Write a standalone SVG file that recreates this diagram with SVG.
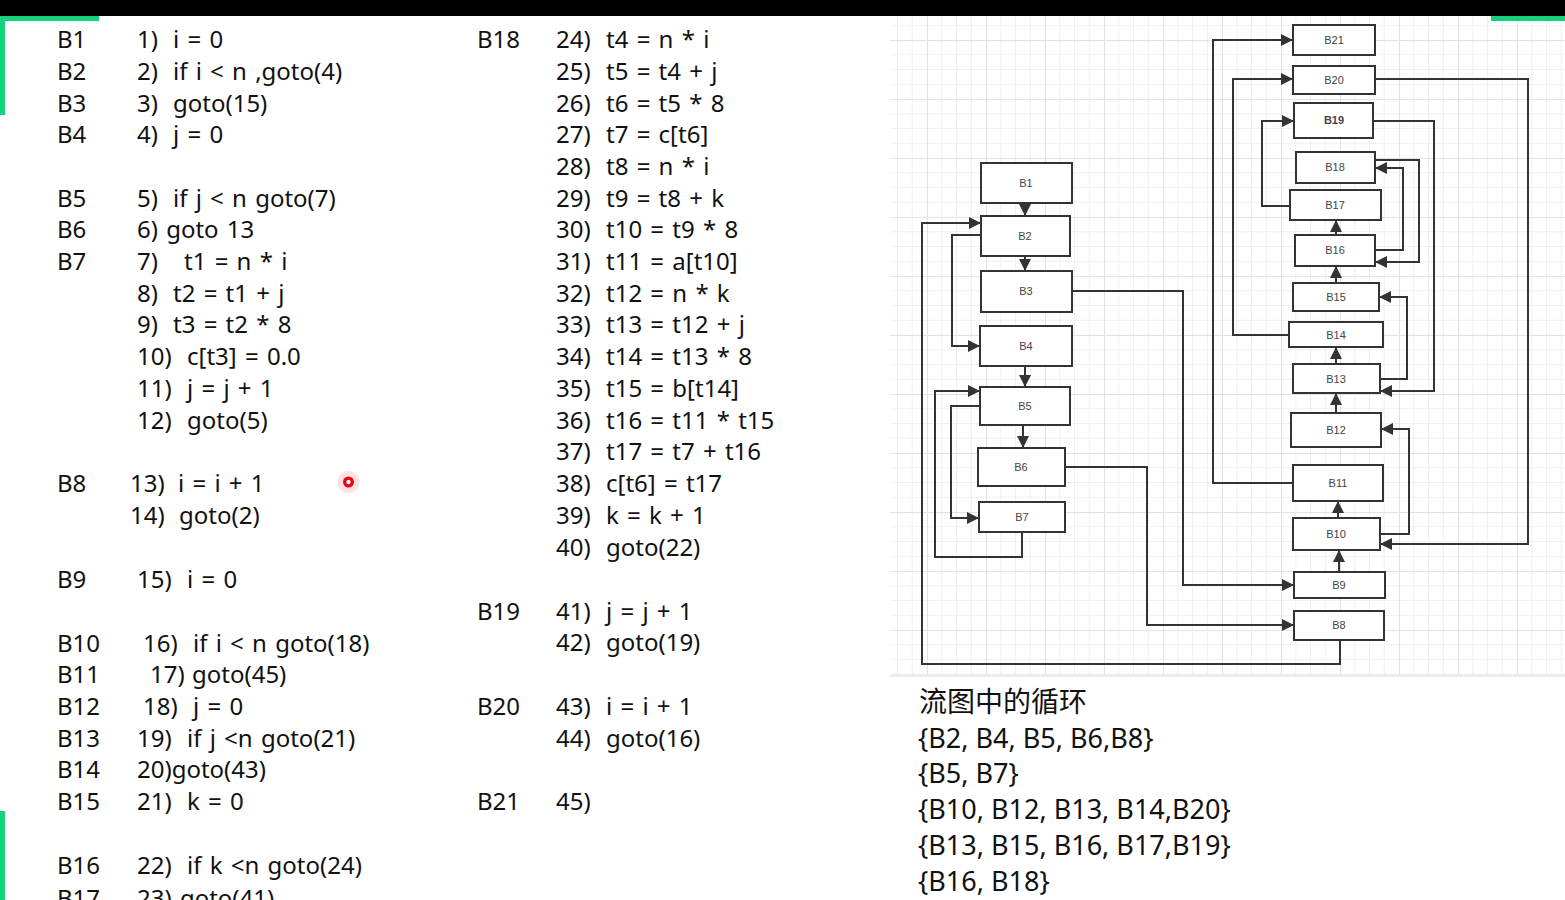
<svg xmlns="http://www.w3.org/2000/svg" width="1565" height="900" viewBox="0 0 1565 900">
<style>
.t{font-family:"Noto Sans","Noto Sans CJK SC",sans-serif;font-size:24px;fill:#111;white-space:pre;word-spacing:2px}
.r{font-family:"Noto Sans","Noto Sans CJK SC",sans-serif;font-size:27px;fill:#111;white-space:pre}
.n rect{fill:#fff;stroke:#333;stroke-width:2}
.n text{font-family:"Liberation Sans",Arial,sans-serif;font-size:11px;fill:#444;text-anchor:middle}
.e path{fill:none;stroke:#333;stroke-width:2}
.g{fill:#14d27c}
</style>
<defs>
<marker id="a" viewBox="0 0 10 10" refX="10" refY="5" markerWidth="6" markerHeight="6" markerUnits="strokeWidth" orient="auto">
<path d="M0,0L10,5L0,10z" fill="#333"/>
</marker>
<pattern id="grid" x="927" y="40" width="59" height="59" patternUnits="userSpaceOnUse">
<path d="M14.75,0V59M29.5,0V59M44.25,0V59M0,14.75H59M0,29.5H59M0,44.25H59" stroke="#f0f0f0" stroke-width="1" fill="none"/>
<path d="M0.5,0V59M0,0.5H59" stroke="#e2e2e2" stroke-width="1" fill="none"/>
</pattern>
</defs>
<rect width="1565" height="900" fill="#fff"/>
<rect x="890" y="15" width="675" height="660" fill="url(#grid)"/>
<rect x="890" y="674" width="675" height="3" fill="#ececec"/>
<rect x="0" y="0" width="1565" height="16" fill="#000"/>
<rect class="g" x="0" y="16" width="99" height="5"/>
<rect class="g" x="0" y="16" width="5" height="99"/>
<rect class="g" x="1491" y="16" width="74" height="5"/>
<rect class="g" x="0" y="811" width="5" height="89"/>

<g id="code-left">
<text class="t" x="57" y="48">B1</text><text class="t" x="137" y="48">1)</text><text class="t" x="173" y="48">i = 0</text>
<text class="t" x="57" y="80">B2</text><text class="t" x="137" y="80">2)</text><text class="t" x="173" y="80">if i &lt; n ,goto(4)</text>
<text class="t" x="57" y="112">B3</text><text class="t" x="137" y="112">3)</text><text class="t" x="173" y="112">goto(15)</text>
<text class="t" x="57" y="143">B4</text><text class="t" x="137" y="143">4)</text><text class="t" x="173" y="143">j = 0</text>
<text class="t" x="57" y="207">B5</text><text class="t" x="137" y="207">5)</text><text class="t" x="173" y="207">if j &lt; n goto(7)</text>
<text class="t" x="57" y="238">B6</text><text class="t" x="137" y="238">6) goto 13</text>
<text class="t" x="57" y="270">B7</text><text class="t" x="137" y="270">7)</text><text class="t" x="184" y="270">t1 = n * i</text>
<text class="t" x="137" y="302">8)</text><text class="t" x="173" y="302">t2 = t1 + j</text>
<text class="t" x="137" y="333">9)</text><text class="t" x="173" y="333">t3 = t2 * 8</text>
<text class="t" x="137" y="365">10)</text><text class="t" x="187" y="365">c[t3] = 0.0</text>
<text class="t" x="137" y="397">11)</text><text class="t" x="187" y="397">j = j + 1</text>
<text class="t" x="137" y="429">12)</text><text class="t" x="187" y="429">goto(5)</text>
<text class="t" x="57" y="492">B8</text><text class="t" x="130" y="492">13)</text><text class="t" x="178" y="492">i = i + 1</text>
<text class="t" x="130" y="524">14)</text><text class="t" x="179" y="524">goto(2)</text>
<text class="t" x="57" y="588">B9</text><text class="t" x="137" y="588">15)</text><text class="t" x="187" y="588">i = 0</text>
<text class="t" x="57" y="652">B10</text><text class="t" x="143" y="652">16)</text><text class="t" x="193" y="652">if i &lt; n goto(18)</text>
<text class="t" x="57" y="683">B11</text><text class="t" x="150" y="683">17)</text><text class="t" x="192" y="683">goto(45)</text>
<text class="t" x="57" y="715">B12</text><text class="t" x="143" y="715">18)</text><text class="t" x="193" y="715">j = 0</text>
<text class="t" x="57" y="747">B13</text><text class="t" x="137" y="747">19)</text><text class="t" x="187" y="747">if j &lt;n goto(21)</text>
<text class="t" x="57" y="778">B14</text><text class="t" x="137" y="778">20)goto(43)</text>
<text class="t" x="57" y="810">B15</text><text class="t" x="137" y="810">21)</text><text class="t" x="187" y="810">k = 0</text>
<text class="t" x="57" y="874">B16</text><text class="t" x="137" y="874">22)</text><text class="t" x="187" y="874">if k &lt;n goto(24)</text>
<text class="t" x="57" y="907">B17</text><text class="t" x="137" y="907">23) goto(41)</text>
</g>

<g id="code-mid">
<text class="t" x="477" y="48">B18</text>
<text class="t" x="556" y="48">24)</text><text class="t" x="606" y="48">t4 = n * i</text>
<text class="t" x="556" y="80">25)</text><text class="t" x="606" y="80">t5 = t4 + j</text>
<text class="t" x="556" y="112">26)</text><text class="t" x="606" y="112">t6 = t5 * 8</text>
<text class="t" x="556" y="143">27)</text><text class="t" x="606" y="143">t7 = c[t6]</text>
<text class="t" x="556" y="175">28)</text><text class="t" x="606" y="175">t8 = n * i</text>
<text class="t" x="556" y="207">29)</text><text class="t" x="606" y="207">t9 = t8 + k</text>
<text class="t" x="556" y="238">30)</text><text class="t" x="606" y="238">t10 = t9 * 8</text>
<text class="t" x="556" y="270">31)</text><text class="t" x="606" y="270">t11 = a[t10]</text>
<text class="t" x="556" y="302">32)</text><text class="t" x="606" y="302">t12 = n * k</text>
<text class="t" x="556" y="333">33)</text><text class="t" x="606" y="333">t13 = t12 + j</text>
<text class="t" x="556" y="365">34)</text><text class="t" x="606" y="365">t14 = t13 * 8</text>
<text class="t" x="556" y="397">35)</text><text class="t" x="606" y="397">t15 = b[t14]</text>
<text class="t" x="556" y="429">36)</text><text class="t" x="606" y="429">t16 = t11 * t15</text>
<text class="t" x="556" y="460">37)</text><text class="t" x="606" y="460">t17 = t7 + t16</text>
<text class="t" x="556" y="492">38)</text><text class="t" x="606" y="492">c[t6] = t17</text>
<text class="t" x="556" y="524">39)</text><text class="t" x="606" y="524">k = k + 1</text>
<text class="t" x="556" y="556">40)</text><text class="t" x="606" y="556">goto(22)</text>
<text class="t" x="477" y="620">B19</text>
<text class="t" x="556" y="620">41)</text><text class="t" x="606" y="620">j = j + 1</text>
<text class="t" x="556" y="651">42)</text><text class="t" x="606" y="651">goto(19)</text>
<text class="t" x="477" y="715">B20</text>
<text class="t" x="556" y="715">43)</text><text class="t" x="606" y="715">i = i + 1</text>
<text class="t" x="556" y="747">44)</text><text class="t" x="606" y="747">goto(16)</text>
<text class="t" x="477" y="810">B21</text>
<text class="t" x="556" y="810">45)</text>
</g>

<g id="cursor">
<circle cx="348.5" cy="482" r="11" fill="#ff3b3b" fill-opacity="0.15"/>
<circle cx="348.5" cy="482" r="5.5" fill="#f00010"/>
<circle cx="348.5" cy="482" r="2.2" fill="#fff"/>
</g>

<g id="connectors" class="e">
<path d="M1025,203V216" marker-end="url(#a)"/>
<path d="M1025,256V271" marker-end="url(#a)"/>
<path d="M1072,291H1183V585H1294" marker-end="url(#a)"/>
<path d="M981,235H952V346H980" marker-end="url(#a)"/>
<path d="M1025,366V387" marker-end="url(#a)"/>
<path d="M1023,425V448" marker-end="url(#a)"/>
<path d="M980,406H951V518H979" marker-end="url(#a)"/>
<path d="M1022,532V557H935V391H980" marker-end="url(#a)"/>
<path d="M1065,467H1147V625H1294" marker-end="url(#a)"/>
<path d="M1340,640V664H922V223H981" marker-end="url(#a)"/>
<path d="M1339,572V550" marker-end="url(#a)"/>
<path d="M1338,518V501" marker-end="url(#a)"/>
<path d="M1380,534H1409V429H1381" marker-end="url(#a)"/>
<path d="M1293,483H1213V40H1293" marker-end="url(#a)"/>
<path d="M1336,413V393" marker-end="url(#a)"/>
<path d="M1336,364V347" marker-end="url(#a)"/>
<path d="M1380,379H1407V297H1379" marker-end="url(#a)"/>
<path d="M1289,335H1233V79H1293" marker-end="url(#a)"/>
<path d="M1336,283V266" marker-end="url(#a)"/>
<path d="M1336,235V220" marker-end="url(#a)"/>
<path d="M1375,250H1403V168H1375" marker-end="url(#a)"/>
<path d="M1375,160H1419V262H1375" marker-end="url(#a)"/>
<path d="M1290,206H1262V121H1294" marker-end="url(#a)"/>
<path d="M1373,121H1434V391H1380" marker-end="url(#a)"/>
<path d="M1375,79H1528V544H1380" marker-end="url(#a)"/>
</g>

<g id="B1" class="n"><rect x="981" y="163" width="91" height="40"/><text x="1026" y="187">B1</text></g>
<g id="B2" class="n"><rect x="981" y="216" width="89" height="40"/><text x="1025" y="240">B2</text></g>
<g id="B3" class="n"><rect x="981" y="271" width="91" height="41"/><text x="1026" y="295">B3</text></g>
<g id="B4" class="n"><rect x="980" y="326" width="92" height="40"/><text x="1026" y="350">B4</text></g>
<g id="B5" class="n"><rect x="980" y="387" width="90" height="38"/><text x="1025" y="410">B5</text></g>
<g id="B6" class="n"><rect x="978" y="448" width="87" height="38"/><text x="1021" y="471">B6</text></g>
<g id="B7" class="n"><rect x="979" y="502" width="86" height="30"/><text x="1022" y="521">B7</text></g>
<g id="B8" class="n"><rect x="1294" y="611" width="90" height="29"/><text x="1339" y="629">B8</text></g>
<g id="B9" class="n"><rect x="1294" y="572" width="91" height="26"/><text x="1339" y="589">B9</text></g>
<g id="B10" class="n"><rect x="1293" y="518" width="87" height="32"/><text x="1336" y="538">B10</text></g>
<g id="B11" class="n"><rect x="1293" y="465" width="90" height="36"/><text x="1338" y="487">B11</text></g>
<g id="B12" class="n"><rect x="1291" y="413" width="90" height="34"/><text x="1336" y="434">B12</text></g>
<g id="B13" class="n"><rect x="1293" y="364" width="87" height="29"/><text x="1336" y="383">B13</text></g>
<g id="B14" class="n"><rect x="1289" y="322" width="94" height="25"/><text x="1336" y="339">B14</text></g>
<g id="B15" class="n"><rect x="1293" y="283" width="86" height="28"/><text x="1336" y="301">B15</text></g>
<g id="B16" class="n"><rect x="1295" y="235" width="80" height="31"/><text x="1335" y="254">B16</text></g>
<g id="B17" class="n"><rect x="1290" y="190" width="91" height="30"/><text x="1335" y="209">B17</text></g>
<g id="B18" class="n"><rect x="1296" y="152" width="79" height="31"/><text x="1335" y="171">B18</text></g>
<g id="B19" class="n"><rect x="1294" y="103" width="79" height="35"/><text x="1334" y="124" font-weight="bold">B19</text></g>
<g id="B20" class="n"><rect x="1293" y="66" width="82" height="28"/><text x="1334" y="84">B20</text></g>
<g id="B21" class="n"><rect x="1293" y="25" width="82" height="30"/><text x="1334" y="44">B21</text></g>

<g id="loops">
<text x="919" y="712" style="font-family:'Noto Sans CJK SC','Noto Sans',sans-serif;font-size:28px;fill:#111">流图中的循环</text>
<text class="r" x="918" y="748">{B2, B4, B5, B6,B8}</text>
<text class="r" x="918" y="783">{B5, B7}</text>
<text class="r" x="918" y="819">{B10, B12, B13, B14,B20}</text>
<text class="r" x="918" y="855">{B13, B15, B16, B17,B19}</text>
<text class="r" x="918" y="891">{B16, B18}</text>
</g>
</svg>
